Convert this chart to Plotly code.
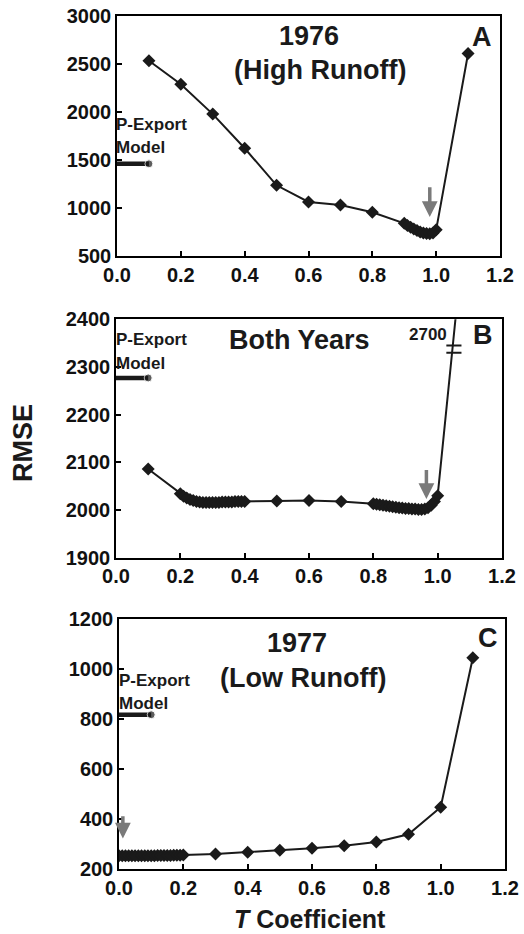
import plotly.graph_objects as go

# ---------------- data ----------------
# Panel A: 1976 (High Runoff)
a_x = [0.1, 0.2, 0.3, 0.4, 0.5, 0.6, 0.7, 0.8,
       0.90, 0.91, 0.92, 0.93, 0.94, 0.95, 0.96, 0.97, 0.98, 0.99, 1.00,
       1.1]
a_y = [2530, 2285, 1975, 1620, 1235, 1062, 1030, 955,
       840, 818, 798, 780, 764, 750, 740, 733, 731, 740, 772,
       2605]

# Panel B: Both Years
b_x = [0.1,
       0.20, 0.21, 0.22, 0.23, 0.24, 0.25, 0.26, 0.27, 0.28, 0.29, 0.30,
       0.31, 0.32, 0.33, 0.34, 0.35, 0.36, 0.37, 0.38, 0.39, 0.40,
       0.5, 0.6, 0.7,
       0.80, 0.81, 0.82, 0.83, 0.84, 0.85, 0.86, 0.87, 0.88, 0.89, 0.90,
       0.91, 0.92, 0.93, 0.94, 0.95, 0.96, 0.97, 0.98, 0.99, 1.00,
       1.1]
b_y = [2086,
       2034, 2029, 2025, 2022, 2020, 2018, 2017, 2016, 2016, 2016, 2016,
       2016, 2016, 2017, 2017, 2017, 2017, 2018, 2018, 2018, 2018,
       2019, 2020, 2018,
       2013, 2012, 2011, 2010, 2009, 2008, 2007, 2006, 2005, 2004, 2003,
       2003, 2002, 2002, 2001, 2001, 2002, 2005, 2010, 2018, 2030,
       2700]

# Panel C: 1977 (Low Runoff)
c_x = [0.00, 0.01, 0.02, 0.03, 0.04, 0.05, 0.06, 0.07, 0.08, 0.09, 0.10,
       0.11, 0.12, 0.13, 0.14, 0.15, 0.16, 0.17, 0.18, 0.19, 0.20,
       0.3, 0.4, 0.5, 0.6, 0.7, 0.8, 0.9, 1.0, 1.1]
c_y = [253, 253, 253, 253, 253, 253, 253, 253, 253, 253, 253,
       253, 254, 254, 254, 254, 254, 255, 255, 255, 256,
       260, 267, 275, 283, 293, 308, 339, 447, 1045]

# P-Export model reference values
pexp_x = [-0.006, 0.1]
pexp_a = [1458, 1458]
pexp_b = [2277, 2277]
pexp_c = [817, 817]

# Optimum arrows (x, y_start, y_end)
arrow_a = [0.98, 1230, 905]
arrow_b = [0.965, 2087, 2023]
arrow_c = [0.012, 417, 322]

# axis ranges / ticks
x_range = [0, 1.2]
x_ticks = [0.0, 0.2, 0.4, 0.6, 0.8, 1.0, 1.2]
x_ticklabels = ["0.0", "0.2", "0.4", "0.6", "0.8", "1.0", "1.2"]
ya_range = [500, 3000]
ya_ticks = [500, 1000, 1500, 2000, 2500, 3000]
yb_range = [1900, 2400]
yb_ticks = [1900, 2000, 2100, 2200, 2300, 2400]
yc_range = [200, 1200]
yc_ticks = [200, 400, 600, 800, 1000, 1200]

# break marks on panel B line (x0, x1, y)
break_x = [1.027, 1.074]
break_y = [2345, 2330]

FONT = "Liberation Sans, Arial, Helvetica, sans-serif"
W, H = 524, 934

fig = go.Figure()

panels = [
    ("x", "y", a_x, a_y, pexp_a),
    ("x2", "y2", b_x, b_y, pexp_b),
    ("x3", "y3", c_x, c_y, pexp_c),
]
for xa, ya, xs, ys, pe in panels:
    fig.add_trace(go.Scatter(
        x=xs, y=ys, xaxis=xa, yaxis=ya, mode="lines+markers",
        line=dict(color="#1a1a1a", width=2),
        marker=dict(symbol="diamond", size=10, color="#1a1a1a"),
        showlegend=False, cliponaxis=True))
    fig.add_trace(go.Scatter(
        x=pexp_x, y=pe, xaxis=xa, yaxis=ya, mode="lines+markers",
        line=dict(color="#1a1a1a", width=4.5),
        marker=dict(symbol="circle", size=[0, 8], color="#1a1a1a"),
        showlegend=False, cliponaxis=False))

# break marks
for by in break_y:
    fig.add_trace(go.Scatter(
        x=break_x, y=[by, by], xaxis="x2", yaxis="y2", mode="lines",
        line=dict(color="#1a1a1a", width=2), showlegend=False, cliponaxis=False))


def px_dom(a, b, total, flip=False):
    if flip:
        return [1 - b / total, 1 - a / total]
    return [a / total, b / total]


axis_common = dict(
    showline=True, linecolor="black", linewidth=1.5, mirror=True,
    ticks="inside", ticklen=5, tickwidth=1.5, tickcolor="black",
    showgrid=False, zeroline=False, automargin=False,
    tickfont=dict(family=FONT, size=20, color="#111111", weight="bold"),
)

layout = dict(
    width=W, height=H,
    margin=dict(l=0, r=0, t=0, b=0),
    paper_bgcolor="white", plot_bgcolor="white",
    xaxis=dict(domain=px_dom(117, 500, W), range=x_range, tickvals=x_ticks,
               ticktext=x_ticklabels, anchor="y", **axis_common),
    yaxis=dict(domain=px_dom(15.5, 256, H, True), range=ya_range, tickvals=ya_ticks,
               anchor="x", **axis_common),
    xaxis2=dict(domain=px_dom(116, 502, W), range=x_range, tickvals=x_ticks,
                ticktext=x_ticklabels, anchor="y2", **axis_common),
    yaxis2=dict(domain=px_dom(319.3, 557.7, H, True), range=yb_range, tickvals=yb_ticks,
                anchor="x2", **axis_common),
    xaxis3=dict(domain=px_dom(119, 505, W), range=x_range, tickvals=x_ticks,
                ticktext=x_ticklabels, anchor="y3", **axis_common),
    yaxis3=dict(domain=px_dom(619, 869, H, True), range=yc_range, tickvals=yc_ticks,
                anchor="x3", **axis_common),
)
fig.update_layout(**layout)

ann = []


def txt(text, x, y, xr, yr, size, xanchor="center", weight="bold", xshift=0):
    ann.append(dict(text=text, x=x, y=y, xref=xr, yref=yr, showarrow=False,
                    xanchor=xanchor, yanchor="middle", borderpad=0, xshift=xshift,
                    font=dict(family=FONT, size=size, color="#1a1a1a", weight=weight)))


# Panel A texts
txt("1976", 0.60, 2787, "x", "y", 27)
txt("(High Runoff)", 0.636, 2433, "x", "y", 27)
txt("A", 1.143, 2777, "x", "y", 27)
txt("P-Export", 0.0, 1872, "x", "y", 17, "left", xshift=-2)
txt("Model", 0.0, 1633, "x", "y", 17, "left", xshift=-2)
# Panel B texts
txt("Both Years", 0.572, 2357, "x2", "y2", 27)
txt("B", 1.141, 2367, "x2", "y2", 27)
txt("P-Export", 0.0, 2357, "x2", "y2", 17, "left", xshift=-1)
txt("Model", 0.0, 2308, "x2", "y2", 17, "left", xshift=-1)
txt("2700", 0.97, 2369, "x2", "y2", 17)
# Panel C texts
txt("1977", 0.553, 1104, "x3", "y3", 27)
txt("(Low Runoff)", 0.572, 963, "x3", "y3", 27)
txt("C", 1.147, 1124, "x3", "y3", 27)
txt("P-Export", 0.0, 955, "x3", "y3", 17, "left", xshift=-1)
txt("Model", 0.0, 863, "x3", "y3", 17, "left", xshift=-1)

# arrows
for (ax_, y0, y1), xr, yr in [(arrow_a, "x", "y"), (arrow_b, "x2", "y2"), (arrow_c, "x3", "y3")]:
    ann.append(dict(x=ax_, y=y1, ax=ax_, ay=y0, xref=xr, yref=yr, axref=xr, ayref=yr,
                    showarrow=True, arrowhead=2, arrowsize=0.9, arrowwidth=3.5,
                    arrowcolor="#7a7a7a", text=""))

# axis titles
ann.append(dict(text="RMSE", x=23 / W, y=1 - 443 / H, xref="paper", yref="paper",
                showarrow=False, textangle=-90, xanchor="center", yanchor="middle",
                font=dict(family=FONT, size=27, color="#1a1a1a", weight="bold")))
ann.append(dict(text="<i>T</i> Coefficient", x=310 / W, y=0, xref="paper",
                yref="paper", showarrow=False, xanchor="center", yanchor="bottom",
                borderpad=0,
                font=dict(family=FONT, size=25, color="#1a1a1a", weight="bold")))

fig.update_layout(annotations=ann)
fig.write_html("out.html")
